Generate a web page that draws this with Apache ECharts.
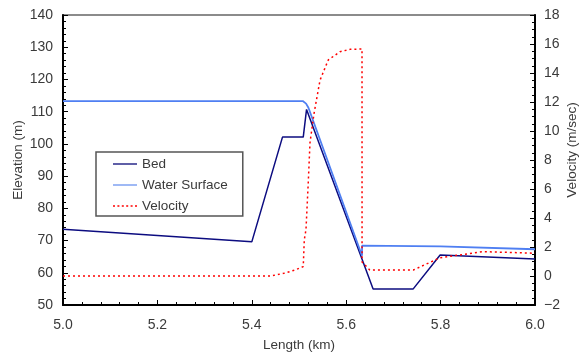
<!DOCTYPE html>
<html>
<head>
<meta charset="utf-8">
<script src="https://cdn.jsdelivr.net/npm/echarts@6/dist/echarts.min.js"></script>
<style>
html,body{margin:0;padding:0;background:#fff;}
#chart{width:583px;height:354px;}
</style>
</head>
<body>
<div id="chart"></div>
<script>
// Length (km) / Elevation (m)
var bedX = [5.0, 5.4, 5.465, 5.509, 5.516, 5.657, 5.742, 5.799, 6.0];
var bedY = [73.5, 69.6, 102.1, 102.1, 110.7, 55.0, 55.0, 65.5, 64.3];

var waterX = [5.0, 5.508, 5.515, 5.52, 5.6335, 5.6336, 5.8, 6.0];
var waterY = [113.3, 113.3, 112.5, 111.2, 65.3, 68.4, 68.2, 67.3];

// Length (km) / Velocity (m/sec)
var velX = [5.0, 5.44, 5.47, 5.49, 5.509, 5.5112, 5.5148, 5.5197, 5.5233, 5.5318, 5.5445, 5.562, 5.5869, 5.608, 5.6335, 5.6336, 5.650, 5.742, 5.799, 5.89, 6.0];
var velY = [0.0, 0.0, 0.2, 0.4, 0.65, 2.5, 3.2, 6.5, 9.2, 11.2, 13.5, 14.9, 15.47, 15.63, 15.66, 0.97, 0.41, 0.41, 1.26, 1.68, 1.57];

var xTicks = [5.0, 5.2, 5.4, 5.6, 5.8, 6.0];
var elevTicks = [50, 60, 70, 80, 90, 100, 110, 120, 130, 140];
var velTicks = [-2, 0, 2, 4, 6, 8, 10, 12, 14, 16, 18];

function pairs(xs, ys) { return xs.map(function (x, i) { return [x, ys[i]]; }); }

var FONT = 'Liberation Sans, Arial, sans-serif';
var TXT = '#3a3a3a';
var LINE_ICON = 'path://M0,6 L24,6 L24,7.5 L0,7.5 Z';
var DOT_ICON = 'path://M0,6h2v1.5h-2z M4.4,6h2v1.5h-2z M8.8,6h2v1.5h-2z M13.2,6h2v1.5h-2z M17.6,6h2v1.5h-2z M22,6h2v1.5h-2z';

var chart = echarts.init(document.getElementById('chart'), null, {renderer: 'canvas'});
chart.setOption({
  animation: false,
  backgroundColor: '#ffffff',
  textStyle: {fontFamily: FONT},
  grid: {left: 63, right: 48, top: 15, bottom: 49, outerBoundsMode: 'none', containLabel: false,
         show: true, borderColor: '#666', borderWidth: 1.5, backgroundColor: 'transparent'},
  legend: {
    orient: 'vertical',
    left: 96, top: 152,
    itemWidth: 24, itemHeight: 14, itemGap: 7,
    padding: [5, 15, 3, 17],
    borderColor: '#555', borderWidth: 1.5,
    textStyle: {fontFamily: FONT, fontSize: 13.5, color: TXT},
    data: [
      {name: 'Bed', icon: LINE_ICON, itemStyle: {color: '#2a2a8a'}},
      {name: 'Water Surface', icon: LINE_ICON, itemStyle: {color: '#7fa2f2'}},
      {name: 'Velocity', icon: DOT_ICON, itemStyle: {color: '#ff0000'}}
    ]
  },
  xAxis: {
    type: 'value', min: xTicks[0], max: xTicks[xTicks.length - 1], interval: 0.2,
    name: 'Length (km)', nameLocation: 'middle', nameGap: 33, nameMoveOverlap: false,
    nameTextStyle: {fontFamily: FONT, fontSize: 13.5, color: TXT},
    axisLine: {show: true, onZero: false, lineStyle: {color: '#000', width: 2}},
    axisTick: {show: true, inside: true, length: 5, lineStyle: {color: '#000', width: 1}},
    minorTick: {show: true, splitNumber: 5, length: 3, lineStyle: {color: '#000', width: 1}},
    splitLine: {show: false},
    axisLabel: {fontFamily: FONT, fontSize: 14, color: TXT, margin: 13, formatter: function (v) { return v.toFixed(1); }}
  },
  yAxis: [
    {
      type: 'value', min: elevTicks[0], max: elevTicks[elevTicks.length - 1], interval: 10,
      name: 'Elevation (m)', nameLocation: 'middle', nameGap: 37.5, nameRotate: 90, nameMoveOverlap: false,
      nameTextStyle: {fontFamily: FONT, fontSize: 13.5, color: TXT},
      axisLine: {show: true, onZero: false, lineStyle: {color: '#000', width: 2}},
      axisTick: {show: true, inside: true, length: 5, lineStyle: {color: '#000', width: 1}},
      minorTick: {show: true, splitNumber: 5, length: 3, lineStyle: {color: '#000', width: 1}},
      splitLine: {show: false},
      axisLabel: {fontFamily: FONT, fontSize: 14, color: TXT, margin: 10}
    },
    {
      type: 'value', position: 'right', min: velTicks[0], max: velTicks[velTicks.length - 1], interval: 2,
      name: 'Velocity (m/sec)', nameLocation: 'middle', nameGap: 30, nameRotate: 90, nameMoveOverlap: false,
      nameTextStyle: {fontFamily: FONT, fontSize: 13.5, color: TXT, padding: [0, 0, 0, 20]},
      axisLine: {show: true, onZero: false, lineStyle: {color: '#000', width: 2}},
      axisTick: {show: true, inside: true, length: 5, lineStyle: {color: '#000', width: 1}},
      minorTick: {show: true, splitNumber: 4, length: 3, lineStyle: {color: '#000', width: 1}},
      splitLine: {show: false},
      axisLabel: {fontFamily: FONT, fontSize: 14, color: TXT, margin: 9, formatter: function (v) { return String(v).replace('-', '\u2212'); }}
    }
  ],
  series: [
    {
      name: 'Bed', type: 'line', yAxisIndex: 0, data: pairs(bedX, bedY),
      showSymbol: false, symbol: 'none',
      lineStyle: {color: '#0c0c80', width: 1.5}, itemStyle: {color: '#0c0c80'}, z: 2
    },
    {
      name: 'Water Surface', type: 'line', yAxisIndex: 0, data: pairs(waterX, waterY),
      showSymbol: false, symbol: 'none',
      lineStyle: {color: '#4f7ff2', width: 1.8}, itemStyle: {color: '#4f7ff2'}, z: 3
    },
    {
      name: 'Velocity', type: 'line', yAxisIndex: 1, data: pairs(velX, velY),
      showSymbol: false, symbol: 'none',
      lineStyle: {color: '#ff0000', width: 1.5, type: [2, 3]}, itemStyle: {color: '#ff0000'}, z: 4
    }
  ]
});
</script>
</body>
</html>
